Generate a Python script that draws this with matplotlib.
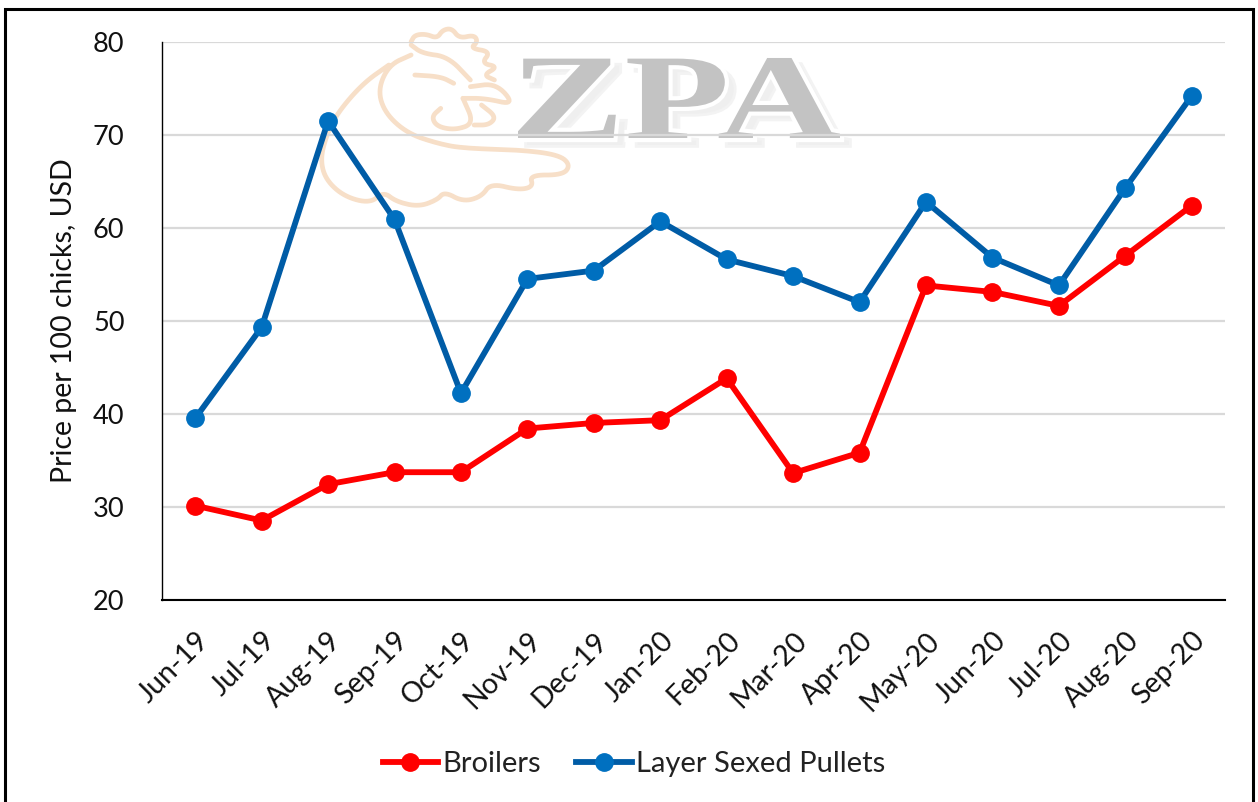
import numpy as np
import matplotlib
matplotlib.use('Agg')
import matplotlib.pyplot as plt
from matplotlib.patches import PathPatch, Rectangle
from matplotlib.textpath import TextPath
from matplotlib.font_manager import FontProperties
from matplotlib.transforms import Affine2D

plt.rcParams['font.family'] = ['Lato', 'DejaVu Sans']

months = ['Jun-19', 'Jul-19', 'Aug-19', 'Sep-19', 'Oct-19', 'Nov-19', 'Dec-19', 'Jan-20',
          'Feb-20', 'Mar-20', 'Apr-20', 'May-20', 'Jun-20', 'Jul-20', 'Aug-20', 'Sep-20']
broilers = [30.1, 28.5, 32.4, 33.7, 33.7, 38.4, 39.0, 39.3, 43.8, 33.6, 35.8, 53.8, 53.1, 51.6, 57.0, 62.4]
layers = [39.5, 49.3, 71.5, 60.9, 42.2, 54.5, 55.4, 60.7, 56.6, 54.8, 52.0, 62.8, 56.8, 53.8, 64.3, 74.2]
y_ticks = [20, 30, 40, 50, 60, 70, 80]

W, H = 1258, 802


def smooth(points, n=3):
    # chaikin corner cutting, good enough for the logo outline
    p = np.array(points, dtype=float)
    for _ in range(n):
        q = p[:-1] * 0.75 + p[1:] * 0.25
        r = p[:-1] * 0.25 + p[1:] * 0.75
        p = np.vstack([p[:1], np.column_stack([q, r]).reshape(-1, 2), p[-1:]])
    return p


def draw_word(ax, word, x0, x1, baseline, cap):
    fp = FontProperties(family='Liberation Serif', weight='bold')
    tp = TextPath((0, 0), word, size=100, prop=fp)
    box = tp.get_extents()
    sx = (x1 - x0) / box.width
    sy = cap / 66.0
    base = Affine2D().translate(-box.x0, 0).scale(sx, -sy)
    shadow = PathPatch(tp, fc='#ececec', ec='#f0f0f0', lw=4, alpha=0.8,
                       transform=base + Affine2D().translate(x0 + 9, baseline + 7) + ax.transData)
    ax.add_patch(shadow)
    outline = PathPatch(tp, fc='white', ec='white', lw=6,
                        transform=base + Affine2D().translate(x0, baseline) + ax.transData)
    ax.add_patch(outline)
    ax.add_patch(PathPatch(tp, fc='#c3c3c3', ec='none',
                           transform=base + Affine2D().translate(x0, baseline) + ax.transData))


def draw_chicken(ax):
    strokes = [
        [(300, 95), (310, 75), (340, 72), (370, 85), (385, 60), (410, 55), (430, 85), (470, 75),
         (480, 95), (460, 115), (515, 125), (490, 160), (535, 170), (495, 195), (525, 210)],
        [(300, 105), (330, 130), (400, 140), (460, 210)],
        [(300, 135), (240, 165), (210, 240), (230, 310), (290, 370), (370, 400), (440, 415),
         (600, 420), (700, 435), (730, 465), (710, 495), (620, 495), (630, 530), (590, 540),
         (515, 520), (490, 560), (440, 575), (390, 545), (370, 570), (320, 590), (260, 575),
         (225, 545), (190, 580), (120, 560), (70, 510), (55, 450), (70, 380), (100, 310),
         (170, 220), (240, 165)],
        [(460, 230), (530, 220), (580, 285), (500, 265), (440, 265)],
        [(440, 265), (470, 340), (420, 360), (370, 350), (355, 320), (380, 295)],
        [(490, 285), (530, 320), (510, 345), (470, 345)],
        [(310, 195), (380, 200), (415, 220)],
    ]
    for s in strokes:
        p = smooth(s)
        ax.plot(300 + p[:, 0] / 2.7, 10 + p[:, 1] / 3, color='#f7dfc8', lw=3.4, solid_capstyle='round')


fig = plt.figure(figsize=(W / 100, H / 100), dpi=100, facecolor='white')

# background layer in pixel coords for the watermark and the outer border
bg = fig.add_axes([0, 0, 1, 1], zorder=0)
bg.set_xlim(0, W)
bg.set_ylim(H, 0)
bg.axis('off')
draw_chicken(bg)
draw_word(bg, 'ZPA', 518, 840, 138, 80)

ax = fig.add_axes([162 / W, 1 - 599.5 / H, (1225 - 162) / W, (599.5 - 42) / H], zorder=1)
ax.patch.set_visible(False)

x = np.arange(len(months))
ax.plot(x, broilers, color='#ff0000', lw=4.2, marker='o', ms=12.5, label='Broilers', zorder=3)
ax.plot(x, layers, color='#005ca6', lw=4.2, marker='o', ms=12.5, mfc='#0070c0', mec='#0070c0',
        label='Layer Sexed Pullets', zorder=4)

ax.set_xlim(-0.5, len(months) - 0.5)
ax.set_ylim(20, 80)
ax.set_yticks(y_ticks)
ax.set_xticks(x)
ax.set_xticklabels(months, rotation=45, ha='right', rotation_mode='anchor', fontsize=20.5, color='#111111')
ax.tick_params(axis='y', length=0, pad=27, labelsize=19.5, labelcolor='#111111')
ax.tick_params(axis='x', length=0, pad=20)
ax.grid(axis='y', color='#d9d9d9', lw=1.6)
ax.set_axisbelow(True)
for s in ['top', 'right']:
    ax.spines[s].set_visible(False)
ax.spines['left'].set_linewidth(1.0)
ax.spines['bottom'].set_linewidth(1.5)
ax.set_ylabel('Price per 100 chicks, USD', fontsize=20.5, color='#111111')
ax.yaxis.set_label_coords(-0.080, 0.5)

ax.legend(loc='center', bbox_to_anchor=(634 / W, 1 - 764 / H), bbox_transform=fig.transFigure,
          ncol=2, frameon=False, fontsize=21, handlelength=1.9, handletextpad=0.15, columnspacing=1.2,
          labelcolor='#222222')

# border of the pasted chart
fig.add_artist(Rectangle((5 / W, -10 / H), (W - 10) / W, (H + 10 - 9) / H, transform=fig.transFigure,
                         fill=False, ec='black', lw=2.2, zorder=10))

fig.savefig('out.png', dpi=100)
